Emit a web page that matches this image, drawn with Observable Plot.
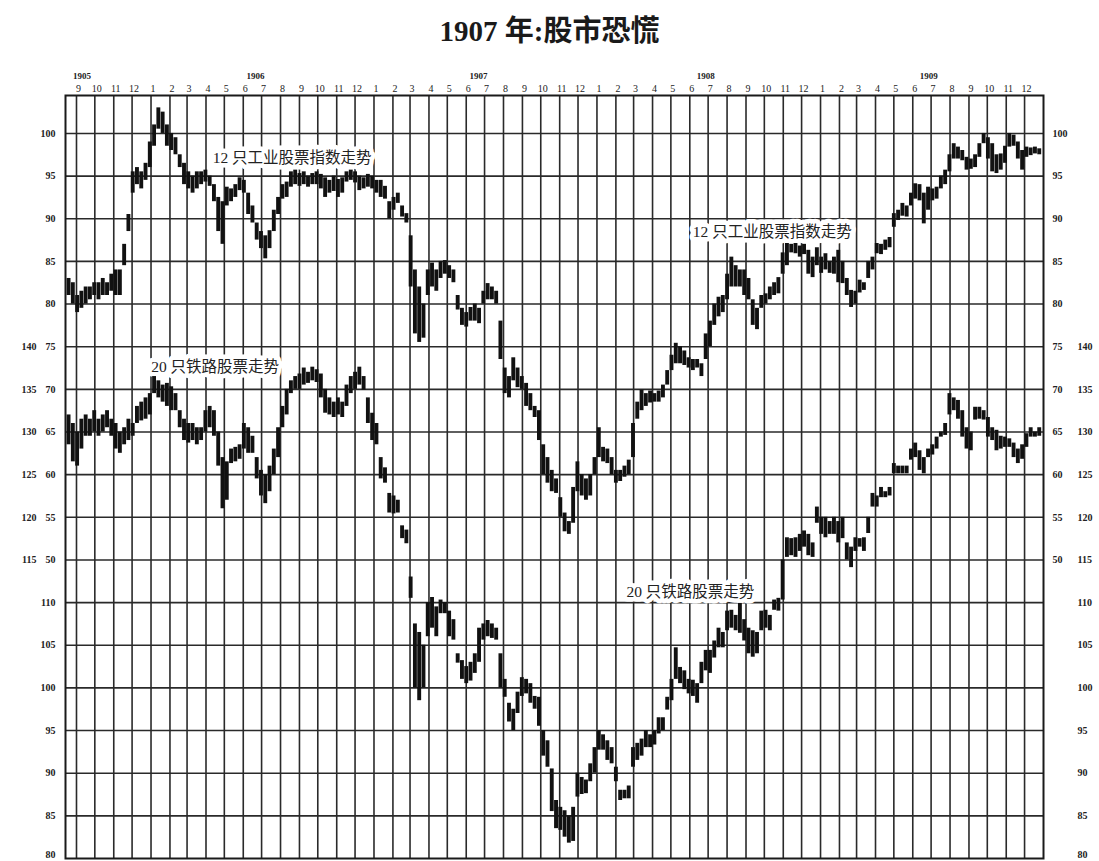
<!DOCTYPE html>
<html>
<head>
<meta charset="utf-8">
<script src="https://cdn.jsdelivr.net/npm/d3@7"></script>
<script src="https://cdn.jsdelivr.net/npm/@observablehq/plot@0.6"></script>
<style>
  html, body { margin: 0; padding: 0; background: #fff; }
  #title { height: 55px; width: 1099px; text-align: center; font-family: "Liberation Serif", "Noto Sans CJK SC", serif; font-weight: bold; font-size: 29px; line-height: 62px; color: #1a1a1a; }
  #chart svg { display: block; }
</style>
</head>
<body>
<div id="title">1907 年:股市恐慌</div>
<div id="chart"></div>
<script>
// ---- weekly high / low, 12 industrial stocks (index points) ----
const ind1905 = [[83,81],[82.5,80],[81,79],[81.5,79.5],[82,80],[82,80.5],[82.5,81],[82.5,80.5],[83,81],[82.5,81],
  [83.5,81.5],[84,81],[84,81],[87,84.5],[90.5,88.5],[95.5,93],[96,94],[95.5,93.5],[96.5,94.5],[99,96]];
const ind1906 = [[101,98.5],[103,100.5],[102.5,100],[101,98.5],[100,98],[99.5,97.5],[97.5,96],[96.5,94],[95.5,93.5],[95,93],
  [95.5,93.5],[95.5,94],[95.7,94.3],[95,93.8],[94,92],[92.5,88.5],[92,87],[93.7,91.5],[93.5,92],[94,92.5],
  [94.8,93.3],[94.5,93],[93,90.5],[91.5,89.5],[89.5,87.5],[88.5,86.5],[88,85.3],[88.6,86.5],[91,88.5],[92.5,90.5],
  [94,92.3],[94.3,92.5],[95.5,93.7],[95.7,94],[95.3,93.8],[95.5,94],[95,93.7],[95.3,94],[95.5,94],[95.2,93.5],
  [94.8,92.5],[94.5,93],[95,93.2],[94.6,92.5],[94.8,93],[95.5,94.3],[95.7,94.5],[95.5,94.2],[95,93.3],[94.8,93.5],
  [95.2,93.7],[95,93.5]];
const ind1907 = [[94.5,93],[94.5,92.5],[93.8,92.3],[92,90],[92.5,91],[93,91.8],[91.5,90.2],[90.6,89.5],[88,82],[84,76.5],
  [82,75.5],[80,76],[84,81],[84.8,82],[84,81.5],[85,83],[85.1,83.5],[84.5,83],[84,82.5],[81,79.3],
  [79.5,77.5],[79,77.3],[79.6,78],[80,78],[79.5,77.7],[81.5,80],[82.4,80.5],[82,80.5],[81.5,80],[78,73.5],
  [72.5,69.5],[71.5,69],[73.7,71],[72.5,70.2],[71.5,70],[70.7,68],[69.5,67.5],[68,66.7],[67.5,64],[63.5,60],
  [62,59],[60.5,58],[59.5,57.8],[57.3,55],[55.5,53.3],[54.5,53],[58.5,54.3],[61.5,58],[60,57.5],[59.5,57],
  [60,57.5],[62,60]];
const ind1908 = [[65.5,62],[63.2,61.5],[63,61.3],[62,60],[60.5,59],[60.5,59.2],[61,59.7],[61.7,60],[66,62],[68.5,66.5],
  [69.9,67.5],[69.5,68],[69.8,68.4],[69.5,68.5],[69.8,68.5],[70.5,69],[72.2,70.5],[74,72.2],[75.4,73],[75,73],
  [74.5,72.8],[73.7,72.5],[73.5,72.2],[73.5,72.5],[73,71.5],[76.5,73.5],[78,75],[80,77.5],[80.8,78.5],[81,79],
  [83.5,80.5],[85.5,82],[84.5,82],[84,82],[84,81],[83,80.5],[80.5,77.5],[79.5,77],[81,79.5],[81.2,80],
  [82,80.5],[82.5,81],[83.1,81.2],[86,83.5],[87.1,84.5],[87,86],[87.1,85.9],[86.8,85.5],[87,85.8],[86.3,83.5],
  [85.5,83.1],[86.6,84.5]];
const ind1909 = [[85.5,83.6],[85.9,84],[85,83.6],[85.5,83.5],[86.3,82.5],[85,82.4],[83,81],[81.6,79.6],[81.5,80],[82.8,81.3],
  [82.5,81.6],[85,83],[85.5,84],[87.1,85.9],[87,85.8],[87.5,86.3],[87.8,86.6],[90.6,89],[91,89.8],[91.8,90.3],
  [91.5,90.2],[93,91.5],[94.1,92.3],[94,92.1],[93,89.4],[93.7,91],[93.5,92.1],[93.7,92.3],[95,93.5],[95.7,94],
  [97.5,95.5],[98.8,97],[98.4,97],[98,96.8],[97.2,95.7],[97,95.8],[97.5,96],[98.8,97.2],[100,98.8],[99.5,97],
  [98.8,95.5],[97.5,95.3],[97.6,95.7],[98.5,96.5],[100,98.4],[99.8,98.5],[99,97],[98,95.7],[98.4,97.2],[98.3,97.4],
  [98.4,97.6],[98.2,97.5]];

// ---- weekly high / low, 20 railroad stocks (index points) ----
const rail1905 = [[132,128.5],[131,126.5],[130,126],[131.5,128],[132,129.5],[131.5,129.5],[132.5,130],[131.5,129.5],[132,130],[132.5,130.5],
  [131.5,129.5],[131,128],[130,127.5],[130.5,128.5],[131.5,129],[131,129.5],[133,131],[133.5,131.3],[134,131.5],[134.5,132]];
const rail1906 = [[136.5,134.5],[136,134],[135.5,133.5],[135.7,133],[135.3,132.5],[134.5,132.5],[132.5,130.5],[131.5,129],[131,128.7],[131,129],
  [130.5,128.5],[130.5,129],[132.5,130],[133,130.5],[132.5,129.5],[130,126],[127,121],[126.5,122],[128,126.3],[128.2,126.5],
  [128.5,126.8],[131,128],[130.5,127.5],[129.5,127.5],[127,124.5],[125.5,122.5],[125,121.6],[126,123],[128,125],[130.5,127],
  [133,130.5],[135,132],[136,134.5],[136.5,135],[136.8,135],[137.5,135.5],[137,135.7],[137.6,136],[137.3,135.8],[136.8,134],
  [135,132.2],[134,132],[133.5,131.7],[134,132],[133.5,131.7],[135.5,133],[136.5,134.5],[137,135],[137.6,135.5],[136.5,134.9],
  [134,131],[132.2,129]];
const rail1907 = [[131,128.5],[127,124.5],[125.8,124],[122.8,120.5],[122.5,120.4],[122,120.5],[119,117.5],[118.5,116.9],[113,110.5],[107.5,100],
  [106.5,98.5],[105,100],[110,106],[110.6,107],[109.5,106],[110.3,108.7],[110,108.7],[109,106],[108,105.6],[104,102.9],
  [103.2,101],[102.5,100.5],[103,100.8],[104,101.7],[107,103],[107.5,105.6],[107.9,106],[107.5,105.8],[107,105.6],[104,100],
  [101,98.9],[98.2,96],[97.5,95],[99.5,97],[101.2,99],[101,99.3],[100.5,98.2],[99,97.5],[98.9,95.5],[95,92],
  [93.8,90.7],[90.5,85.5],[86.8,83.5],[86,83.3],[85.6,82.5],[85,81.8],[86,82],[90,87.2],[89.5,87.5],[89.2,87.6],
  [91.1,89],[93,90]];
const rail1908 = [[95,92.7],[94.5,92.7],[93.8,91.5],[93,91.1],[90.7,89],[88,86.8],[88,87],[88.5,87],[93,90.7],[93.5,91.5],
  [94,92],[95,93],[94.5,93],[95,93.3],[96.5,94.6],[96.5,95],[98.9,97.4],[101,98.5],[104.7,101],[102.4,100.5],
  [102,99.8],[101,99.3],[100.9,99],[100.5,98.2],[103,100.5],[104.4,102],[104.4,101.7],[105.5,103.5],[107,104.7],[106.5,104.7],
  [109,106.7],[109.1,107],[108.5,106.7],[109.9,106.4],[108,105.5],[107,104],[106.7,103.6],[106.5,104],[109,106.7],[109.1,107],
  [108.5,106.7],[110.3,109.1],[110.5,109],[115,110.3],[117.6,115.3],[117.5,115.5],[117.6,115.3],[118,116],[118.4,116.5],[118,115.5],
  [117,115.3],[121.2,119.3]];
const rail1909 = [[120,118],[120,117.6],[119.5,118],[120,118],[119.5,117],[120,117.5],[117,115],[116.5,114.1],[117.6,116],[117.5,116.5],
  [117.6,116],[120,118.1],[122.8,121.2],[122.5,121.2],[123.5,122.3],[123,122.3],[123.5,122.5],[126.3,125.1],[126,125.1],[126,125.1],
  [126,125.1],[128,126.7],[128.7,127],[127.8,125.5],[127,125.1],[128,127],[128.5,127.3],[129.4,128],[130,129.4],[131,129.6],
  [134.5,132],[134,132.5],[133.7,131.5],[132.5,129.4],[130.5,128],[130,127.8],[132.9,131.4],[132.9,131.5],[132.5,131.4],[131.7,129.4],
  [130.5,129],[130.2,127.8],[129.5,128],[129.4,128.2],[129.2,128.2],[128.7,127],[128,126.3],[128.5,126.8],[129.8,128.2],[130.5,129.4],
  [130,129.4],[130.5,129.5]];

// ---- axis tick labels ----
const indTicks = [50, 55, 60, 65, 70, 75, 80, 85, 90, 95, 100];
const railTicksUpper = [115, 120, 125, 130, 135, 140];
const railTicksLower = [80, 85, 90, 95, 100, 105, 110];
const yearLabels = ["1905", "1906", "1907", "1908", "1909"];
const yearLabelDates = [Date.UTC(1905, 8, 10), Date.UTC(1906, 5, 21), Date.UTC(1907, 5, 21), Date.UTC(1908, 5, 27), Date.UTC(1909, 5, 27)];

// ---- in-chart labels ----
const notes = [
  {text: "12 只工业股票指数走势", date: Date.UTC(1906, 7, 20), value: 97.1},
  {text: "12 只工业股票指数走势", date: Date.UTC(1908, 9, 14), value: 88.5},
  {text: "20 只铁路股票走势", date: Date.UTC(1906, 3, 16), value: 137.6 - 65},
  {text: "20 只铁路股票走势", date: Date.UTC(1908, 5, 2), value: 111.2 - 65}
];

// rail scale is the industrial scale shifted by 65 points (rail 140 = ind 75)
const railOffset = 65;

const indAll = [...ind1905, ...ind1906, ...ind1907, ...ind1908, ...ind1909];
const railAll = [...rail1905, ...rail1906, ...rail1907, ...rail1908, ...rail1909];
const weekDate = (i) => new Date(Date.UTC(1905, 7, 19 + 7 * i));
const indData = indAll.map(([hi, lo], i) => ({date: weekDate(i), hi, lo}));
const railData = railAll.map(([hi, lo], i) => ({date: weekDate(i), hi: hi - railOffset, lo: lo - railOffset}));

const months = d3.utcMonth.range(new Date(Date.UTC(1905, 8, 1)), new Date(Date.UTC(1910, 0, 1)));
const hGrid = Array.from(new Set([...indTicks, ...railTicksUpper.map(d => d - railOffset), ...railTicksLower.map(d => d - railOffset)])).filter(d => d > 15);

const serif = "Liberation Serif, DejaVu Serif, serif";
const cjk = "Liberation Serif, Noto Sans CJK SC, sans-serif";
const gridColor = "#2a2a2a";
const lab = {fontSize: 10, fontWeight: "bold", fontFamily: serif, fill: "#222"};

const chart = Plot.plot({
  width: 1099,
  height: 806,
  marginTop: 40,
  marginBottom: 3,
  marginLeft: 65,
  marginRight: 56,
  x: {type: "utc", domain: [new Date(Date.UTC(1905, 7, 14)), new Date(Date.UTC(1910, 0, 1))], axis: null},
  y: {domain: [15, 104.45], axis: null},
  style: {background: "#fff"},
  marks: [
    Plot.ruleY(hGrid, {stroke: gridColor, strokeWidth: 1.6}),
    Plot.ruleX(months, {stroke: gridColor, strokeWidth: 1.6}),
    Plot.frame({stroke: "#1a1a1a", strokeWidth: 2}),
    Plot.text(notes, {x: "date", y: "value", text: "text", fontSize: 15.5, fontFamily: cjk, fill: "#222",
      stroke: "white", strokeWidth: 9, ariaLabel: "annotation"}),
    Plot.ruleX(indData, {x: "date", y1: "lo", y2: "hi", stroke: "#111", strokeWidth: 3.9}),
    Plot.ruleX(railData, {x: "date", y1: "lo", y2: "hi", stroke: "#111", strokeWidth: 3.9}),
    // top axis: months and years
    Plot.text(months, {x: d => d, frameAnchor: "top", dy: -11, dx: 2, text: d => String(d.getUTCMonth() + 1),
      fontSize: 10, fontFamily: serif, fill: "#222"}),
    Plot.text(yearLabels, {x: (d, i) => new Date(yearLabelDates[i]), frameAnchor: "top", dy: -23, text: d => d,
      fontSize: 9, fontWeight: "bold", fontFamily: serif, fill: "#222"}),
    // left axes
    Plot.text(indTicks, {y: d => d, frameAnchor: "left", dx: -10, textAnchor: "end", text: d => String(d), ...lab}),
    Plot.text(railTicksUpper, {y: d => d - railOffset, frameAnchor: "left", dx: -29, textAnchor: "end", text: d => String(d), ...lab}),
    Plot.text(railTicksLower.slice(1), {y: d => d - railOffset, frameAnchor: "left", dx: -10, textAnchor: "end", text: d => String(d), ...lab}),
    Plot.text(railTicksLower.slice(0, 1), {y: d => d - railOffset, frameAnchor: "left", dx: -10, dy: -1, lineAnchor: "bottom", textAnchor: "end", text: d => String(d), ...lab}),
    // right axes
    Plot.text(indTicks, {y: d => d, frameAnchor: "right", dx: 9, textAnchor: "start", text: d => String(d), ...lab}),
    Plot.text([...railTicksUpper, ...railTicksLower.slice(1)], {y: d => d - railOffset, frameAnchor: "right", dx: 34, textAnchor: "start", text: d => String(d), ...lab}),
    Plot.text(railTicksLower.slice(0, 1), {y: d => d - railOffset, frameAnchor: "right", dx: 34, dy: -1, lineAnchor: "bottom", textAnchor: "start", text: d => String(d), ...lab})
  ]
});
d3.select(chart).selectAll('g[aria-label="annotation"] text').style("letter-spacing", "3.2px");
document.getElementById("chart").appendChild(chart);
</script>
</body>
</html>
